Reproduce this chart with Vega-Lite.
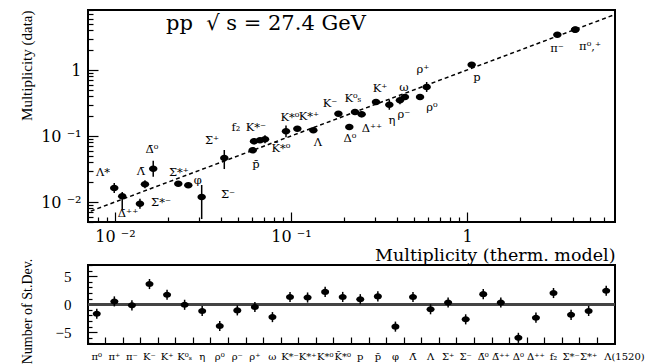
{
  "$schema": "https://vega.github.io/schema/vega-lite/v6.json",
  "background": "white",
  "padding": {"left": 18, "top": 8, "right": 0, "bottom": 0},
  "bounds": "flush",
  "spacing": 43,
  "config": {
    "view": {"stroke": "black", "strokeWidth": 2},
    "font": "Liberation Serif",
    "axis": {"domain": false, "grid": false, "tickColor": "black", "tickWidth": 1.2, "labelColor": "black", "titleColor": "black", "labelFont": "DejaVu Serif", "titleFont": "Liberation Serif", "titleFontWeight": "normal", "labelOverlap": false}
  },
  "datasets": {
    "diag": [{"m": 0.004, "d": 0.004}, {"m": 10, "d": 10}],
    "heading": [{"t": "pp\u00a0\u00a0√\u00a0s = 27.4 GeV", "x": 0.0195, "y": 4.9}],
    "particles": [
      {"n": "Λ(1520)", "m": 0.00991, "d": 0.0163, "lo": 0.0137, "hi": 0.0194},
      {"n": "Δ̄++", "m": 0.0110, "d": 0.0122, "lo": 0.00783, "hi": 0.0142},
      {"n": "Σ*-", "m": 0.01387, "d": 0.00942, "lo": 0.0079, "hi": 0.0112},
      {"n": "Λ̄", "m": 0.01481, "d": 0.01854, "lo": 0.0161, "hi": 0.0213},
      {"n": "Δ̄0", "m": 0.0165, "d": 0.032, "lo": 0.0242, "hi": 0.0423},
      {"n": "Σ*+", "m": 0.0229, "d": 0.0189, "lo": 0.0177, "hi": 0.0202},
      {"n": "φ", "m": 0.0261, "d": 0.0179, "lo": 0.0167, "hi": 0.0192},
      {"n": "Σ-", "m": 0.0311, "d": 0.0119, "lo": 0.00552, "hi": 0.0181},
      {"n": "Σ+", "m": 0.0418, "d": 0.0464, "lo": 0.0316, "hi": 0.0614},
      {"n": "p̄", "m": 0.0606, "d": 0.0607, "lo": 0.0567, "hi": 0.065},
      {"n": "f2", "m": 0.0617, "d": 0.0831, "lo": 0.0749, "hi": 0.0922},
      {"n": "K*-", "m": 0.0667, "d": 0.0861, "lo": 0.0805, "hi": 0.0921},
      {"n": "K̄*0", "m": 0.0712, "d": 0.0891, "lo": 0.0775, "hi": 0.1025},
      {"n": "K*0", "m": 0.0937, "d": 0.1178, "lo": 0.0958, "hi": 0.1449},
      {"n": "K*+", "m": 0.1087, "d": 0.129, "lo": 0.1206, "hi": 0.138},
      {"n": "Λ", "m": 0.134, "d": 0.122, "lo": 0.114, "hi": 0.1305},
      {"n": "K-", "m": 0.186, "d": 0.218, "lo": 0.204, "hi": 0.233},
      {"n": "Δ0", "m": 0.2145, "d": 0.137, "lo": 0.128, "hi": 0.1466},
      {"n": "K0s", "m": 0.231, "d": 0.231, "lo": 0.216, "hi": 0.247},
      {"n": "Δ++", "m": 0.252, "d": 0.213, "lo": 0.192, "hi": 0.236},
      {"n": "K+", "m": 0.304, "d": 0.327, "lo": 0.306, "hi": 0.35},
      {"n": "η", "m": 0.362, "d": 0.298, "lo": 0.25, "hi": 0.355},
      {"n": "ρ-", "m": 0.416, "d": 0.347, "lo": 0.302, "hi": 0.399},
      {"n": "ω", "m": 0.444, "d": 0.39, "lo": 0.351, "hi": 0.433},
      {"n": "ρ0", "m": 0.541, "d": 0.39, "lo": 0.365, "hi": 0.417},
      {"n": "ρ+", "m": 0.59, "d": 0.553, "lo": 0.465, "hi": 0.658},
      {"n": "p", "m": 1.063, "d": 1.203, "lo": 1.125, "hi": 1.287},
      {"n": "π-", "m": 3.26, "d": 3.43, "lo": 3.21, "hi": 3.67},
      {"n": "π0", "m": 4.11, "d": 4.08, "lo": 3.81, "hi": 4.37},
      {"n": "π+", "m": 4.13, "d": 4.1, "lo": 3.83, "hi": 4.39}
    ],
    "labels": [
      {"t": "Λ*", "x": 0.00855, "y": 0.0275},
      {"t": "Δ̄⁺⁺", "x": 0.01186, "y": 0.00658},
      {"t": "Λ̄", "x": 0.01406, "y": 0.0285},
      {"t": "Δ̄⁰", "x": 0.01623, "y": 0.0614},
      {"t": "Σ*⁺", "x": 0.0231, "y": 0.0275},
      {"t": "Σ*⁻", "x": 0.01826, "y": 0.00966},
      {"t": "φ", "x": 0.0296, "y": 0.0208},
      {"t": "Σ⁻", "x": 0.0439, "y": 0.01277},
      {"t": "Σ⁺", "x": 0.0356, "y": 0.084},
      {"t": "p̄", "x": 0.0632, "y": 0.0364},
      {"t": "f₂", "x": 0.0487, "y": 0.1321},
      {"t": "K*⁻", "x": 0.0632, "y": 0.1321},
      {"t": "K̄*⁰", "x": 0.0877, "y": 0.0636},
      {"t": "K*⁰", "x": 0.0987, "y": 0.1874},
      {"t": "K*⁺", "x": 0.1265, "y": 0.194},
      {"t": "Λ", "x": 0.1422, "y": 0.0783},
      {"t": "K⁻", "x": 0.1666, "y": 0.3054},
      {"t": "K⁰ₛ", "x": 0.2249, "y": 0.3637},
      {"t": "K⁺", "x": 0.3207, "y": 0.5153},
      {"t": "ω", "x": 0.4385, "y": 0.5336},
      {"t": "ρ⁺", "x": 0.5623, "y": 1.0},
      {"t": "ρ⁻", "x": 0.4385, "y": 0.208},
      {"t": "η", "x": 0.375, "y": 0.1687},
      {"t": "Δ⁺⁺", "x": 0.2884, "y": 0.1277},
      {"t": "Δ⁰", "x": 0.2163, "y": 0.0901},
      {"t": "ρ⁰", "x": 0.6324, "y": 0.2656},
      {"t": "p", "x": 1.14, "y": 0.7565},
      {"t": "π⁻", "x": 3.245, "y": 2.08},
      {"t": "π⁰,⁺", "x": 5.0, "y": 2.23}
    ],
    "dev": [
      {"p": "π⁰", "v": -1.7, "lo": -2.6, "hi": -0.8},
      {"p": "π⁺", "v": 0.5, "lo": -0.4, "hi": 1.4},
      {"p": "π⁻", "v": -0.2, "lo": -1.1, "hi": 0.7},
      {"p": "K⁻", "v": 3.6, "lo": 2.7, "hi": 4.5},
      {"p": "K⁺", "v": 1.7, "lo": 0.8, "hi": 2.6},
      {"p": "K⁰ₛ", "v": -0.1, "lo": -1.0, "hi": 0.8},
      {"p": "η", "v": -1.2, "lo": -2.1, "hi": -0.3},
      {"p": "ρ⁰", "v": -3.9, "lo": -4.8, "hi": -3.0},
      {"p": "ρ⁻", "v": -1.1, "lo": -2.0, "hi": -0.2},
      {"p": "ρ⁺", "v": -0.5, "lo": -1.4, "hi": 0.4},
      {"p": "ω", "v": -2.3, "lo": -3.2, "hi": -1.4},
      {"p": "K*⁻", "v": 1.3, "lo": 0.4, "hi": 2.2},
      {"p": "K*⁺", "v": 1.2, "lo": 0.3, "hi": 2.1},
      {"p": "K*⁰", "v": 2.2, "lo": 1.3, "hi": 3.1},
      {"p": "K̄*⁰", "v": 1.3, "lo": 0.4, "hi": 2.2},
      {"p": "p", "v": 0.9, "lo": 0.0, "hi": 1.8},
      {"p": "p̄", "v": 1.4, "lo": 0.5, "hi": 2.3},
      {"p": "φ", "v": -4.0, "lo": -4.9, "hi": -3.1},
      {"p": "Λ̄", "v": 1.3, "lo": 0.4, "hi": 2.2},
      {"p": "Λ", "v": -0.9, "lo": -1.8, "hi": 0.0},
      {"p": "Σ⁺", "v": 0.3, "lo": -0.6, "hi": 1.2},
      {"p": "Σ⁻", "v": -2.7, "lo": -3.6, "hi": -1.8},
      {"p": "Δ̄⁰", "v": 1.8, "lo": 0.9, "hi": 2.7},
      {"p": "Δ̄⁺⁺", "v": 0.3, "lo": -0.6, "hi": 1.2},
      {"p": "Δ⁰", "v": -6.0, "lo": -6.9, "hi": -5.1},
      {"p": "Δ⁺⁺", "v": -2.4, "lo": -3.3, "hi": -1.5},
      {"p": "f₂", "v": 2.0, "lo": 1.1, "hi": 2.9},
      {"p": "Σ*⁻", "v": -1.9, "lo": -2.8, "hi": -1.0},
      {"p": "Σ*⁺", "v": -1.2, "lo": -2.1, "hi": -0.3},
      {"p": "Λ(1520)", "v": 2.4, "lo": 1.5, "hi": 3.3}
    ]
  },
  "vconcat": [
    {
      "width": 527,
      "height": 212,
      "layer": [
        {
          "data": {"name": "diag"},
          "mark": {"type": "line", "strokeDash": [4, 3], "strokeWidth": 1.5, "color": "black", "clip": true},
          "encoding": {
            "x": {"field": "m", "type": "quantitative", "scale": {"type": "log", "domain": [0.00703, 6.93], "nice": false},
              "axis": {"orient": "top", "offset": -212, "values": [0.008, 0.009, 0.02, 0.03, 0.04, 0.05, 0.06, 0.07, 0.08, 0.09, 0.2, 0.3, 0.4, 0.5, 0.6, 0.7, 0.8, 0.9, 2, 3, 4, 5, 6], "labels": false, "tickSize": 5, "title": null}},
            "y": {"field": "d", "type": "quantitative", "scale": {"type": "log", "domain": [0.00498, 8.11], "nice": false},
              "axis": {"orient": "right", "offset": -527, "values": [0.005, 0.006, 0.007, 0.008, 0.009, 0.02, 0.03, 0.04, 0.05, 0.06, 0.07, 0.08, 0.09, 0.2, 0.3, 0.4, 0.5, 0.6, 0.7, 0.8, 0.9, 2, 3, 4, 5, 6, 7, 8], "labels": false, "tickSize": 5, "title": null}}
          }
        },
        {
          "data": {"name": "particles"},
          "mark": {"type": "rule", "color": "black", "strokeWidth": 1.5},
          "encoding": {
            "x": {"field": "m", "type": "quantitative", "axis": null},
            "y": {"field": "lo", "type": "quantitative", "axis": null},
            "y2": {"field": "hi"}
          }
        },
        {
          "data": {"name": "particles"},
          "mark": {"type": "point", "filled": true, "color": "black", "opacity": 1, "size": 72, "shape": "M -1 0 A 1 0.76 0 1 0 1 0 A 1 0.76 0 1 0 -1 0 Z"},
          "encoding": {
            "x": {"field": "m", "type": "quantitative",
              "axis": {"orient": "bottom", "values": [0.01, 0.1, 1], "labelExpr": "datum.value == 0.01 ? '10 ⁻²' : datum.value == 0.1 ? '10 ⁻¹' : '1'", "tickSize": -10, "labelPadding": 16, "labelFontSize": 16,
                "title": "Multiplicity (therm. model)", "titleFont": "DejaVu Serif", "titleFontSize": 17.5, "titleX": 527, "titleY": 33, "titleAlign": "right", "titleBaseline": "middle"}},
            "y": {"field": "d", "type": "quantitative",
              "axis": {"orient": "left", "values": [0.01, 0.1, 1], "labelExpr": "datum.value == 0.01 ? '10 ⁻²' : datum.value == 0.1 ? '10 ⁻¹' : '1'", "tickSize": -10, "labelPadding": 17, "labelFontSize": 16,
                "title": "Multiplicity (data)", "titleFontSize": 15, "titleX": -62, "titleY": 0, "titleAlign": "right", "titleBaseline": "middle", "titleAngle": -90}}
          }
        },
        {
          "data": {"name": "labels"},
          "mark": {"type": "text", "fontSize": 11.5, "font": "DejaVu Serif", "fill": "black"},
          "encoding": {
            "x": {"field": "x", "type": "quantitative", "axis": null},
            "y": {"field": "y", "type": "quantitative", "axis": null},
            "text": {"field": "t"}
          }
        },
        {
          "data": {"name": "heading"},
          "mark": {"type": "text", "fontSize": 21, "font": "DejaVu Serif", "fill": "black", "align": "left", "baseline": "middle"},
          "encoding": {
            "x": {"field": "x", "type": "quantitative", "axis": null},
            "y": {"field": "y", "type": "quantitative", "axis": null},
            "text": {"field": "t"}
          }
        }
      ]
    },
    {
      "width": 527,
      "height": 79,
      "layer": [
        {
          "data": {"name": "dev"},
          "mark": {"type": "rule", "color": "#444444", "strokeWidth": 2},
          "encoding": {
            "y": {"datum": 0, "type": "quantitative", "scale": {"domain": [-7.1, 7], "nice": false, "zero": false}, "axis": null}
          }
        },
        {
          "data": {"name": "dev"},
          "mark": {"type": "rule", "color": "black", "strokeWidth": 1.5},
          "encoding": {
            "x": {"field": "p", "type": "nominal", "sort": null, "scale": {"type": "band", "paddingInner": 0, "paddingOuter": 0},
              "axis": {"orient": "top", "offset": -79, "bandPosition": 0, "labels": false, "tickSize": 7, "title": null}},
            "y": {"field": "lo", "type": "quantitative",
              "axis": {"orient": "right", "offset": -527, "values": [-7, -6, -4, -3, -2, -1, 1, 2, 3, 4, 6, 7], "labels": false, "tickSize": 4, "title": null}},
            "y2": {"field": "hi"}
          }
        },
        {
          "data": {"name": "dev"},
          "mark": {"type": "point", "filled": true, "color": "black", "opacity": 1, "size": 64, "shape": "M -1 0 A 1 0.76 0 1 0 1 0 A 1 0.76 0 1 0 -1 0 Z"},
          "encoding": {
            "x": {"field": "p", "type": "nominal", "sort": null,
              "axis": {"orient": "bottom", "ticks": false, "labelPadding": 7, "labelFontSize": 10, "labelAngle": 0, "title": null,
                "labelAlign": {"condition": {"test": "datum.value == 'Λ(1520)'", "value": "left"}, "value": "center"},
                "labelOffset": {"condition": {"test": "datum.value == 'Λ(1520)'", "value": -2}, "value": 0}}},
            "y": {"field": "v", "type": "quantitative",
              "axis": {"orient": "left", "values": [-5, 0, 5], "tickSize": -9, "labelPadding": 26, "labelFontSize": 15, "labelFont": "Liberation Serif",
                "title": "Number of St.Dev.", "titleFontSize": 14, "titleX": -61, "titleY": 46, "titleAlign": "center", "titleBaseline": "middle", "titleAngle": -90}}
          }
        }
      ]
    }
  ]
}
